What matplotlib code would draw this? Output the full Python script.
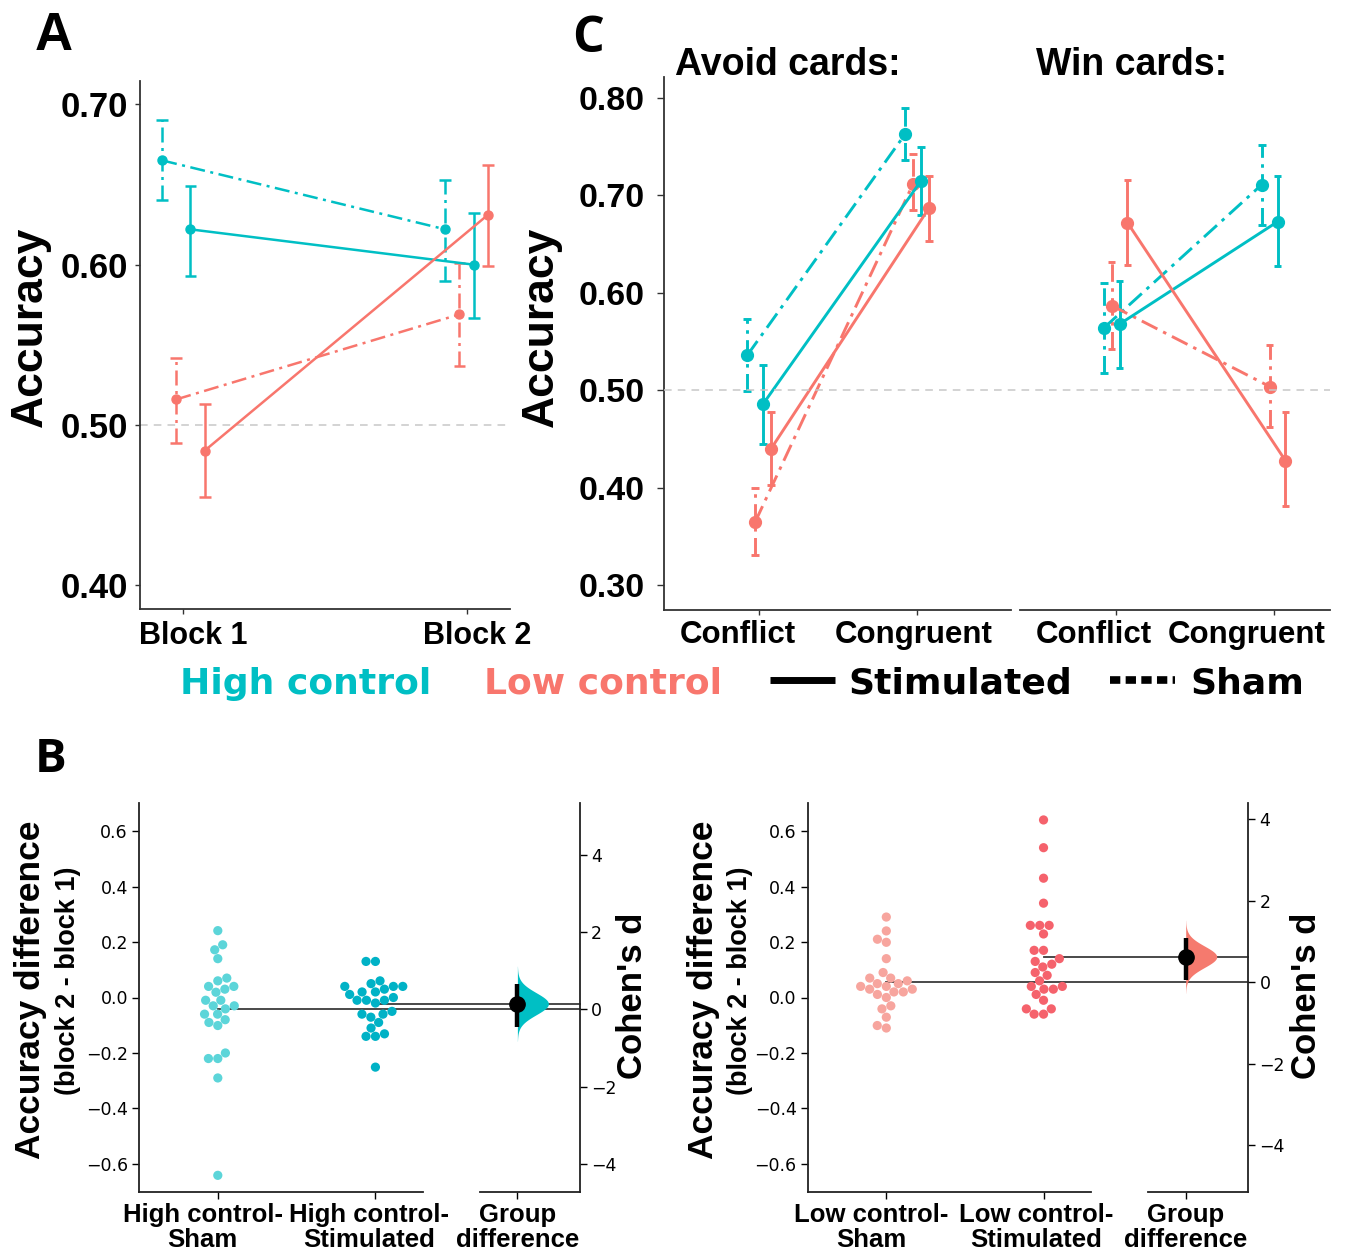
import numpy as np
import matplotlib
matplotlib.use("Agg")
import matplotlib.pyplot as plt
from matplotlib import transforms
from matplotlib.lines import Line2D

plt.rcParams['font.family'] = ['Liberation Sans', 'DejaVu Sans']

TEAL = "#00BFC4"
SALMON = "#F8766D"
DASHDOT = (0, (6, 2.2, 1.2, 2.2))

# ---------------- data: panel A (accuracy per block) ----------------
blocks = ["Block 1", "Block 2"]
a_hc_sham = [0.665, 0.622]
a_hc_sham_lo = [0.640, 0.590]
a_hc_sham_hi = [0.690, 0.653]
a_hc_stim = [0.622, 0.600]
a_hc_stim_lo = [0.593, 0.567]
a_hc_stim_hi = [0.649, 0.632]
a_lc_sham = [0.516, 0.569]
a_lc_sham_lo = [0.489, 0.537]
a_lc_sham_hi = [0.542, 0.601]
a_lc_stim = [0.484, 0.631]
a_lc_stim_lo = [0.455, 0.599]
a_lc_stim_hi = [0.513, 0.662]

# ---------------- data: panel C (accuracy per card type) ----------------
conditions = ["Conflict", "Congruent"]
avoid_hc_sham = [0.536, 0.763]
avoid_hc_sham_lo = [0.499, 0.736]
avoid_hc_sham_hi = [0.573, 0.790]
avoid_hc_stim = [0.486, 0.715]
avoid_hc_stim_lo = [0.445, 0.680]
avoid_hc_stim_hi = [0.526, 0.750]
avoid_lc_sham = [0.365, 0.712]
avoid_lc_sham_lo = [0.331, 0.685]
avoid_lc_sham_hi = [0.400, 0.742]
avoid_lc_stim = [0.440, 0.687]
avoid_lc_stim_lo = [0.403, 0.653]
avoid_lc_stim_hi = [0.478, 0.720]

win_hc_sham = [0.564, 0.711]
win_hc_sham_lo = [0.518, 0.670]
win_hc_sham_hi = [0.610, 0.752]
win_hc_stim = [0.568, 0.673]
win_hc_stim_lo = [0.523, 0.628]
win_hc_stim_hi = [0.612, 0.720]
win_lc_sham = [0.587, 0.504]
win_lc_sham_lo = [0.542, 0.462]
win_lc_sham_hi = [0.632, 0.547]
win_lc_stim = [0.672, 0.428]
win_lc_stim_lo = [0.629, 0.381]
win_lc_stim_hi = [0.716, 0.478]

# ---------------- data: panel B (block 2 - block 1 per subject) ----------------
hc_sham_diff = [0.241, 0.190, 0.172, 0.140, 0.070, 0.060, 0.030, 0.019, 0.040, 0.040,
                -0.010, -0.010, -0.030, -0.030, -0.041, -0.060, -0.060, -0.080, -0.090,
                -0.101, -0.200, -0.220, -0.220, -0.290, -0.641]
hc_stim_diff = [0.130, 0.130, 0.060, 0.050, 0.040, 0.040, 0.040, 0.030, 0.020, 0.020,
                0.011, 0.000, -0.010, -0.010, -0.010, -0.020, -0.050, -0.060, -0.060,
                -0.071, -0.090, -0.110, -0.140, -0.140, -0.131, -0.251]
lc_sham_diff = [0.290, 0.240, 0.210, 0.199, 0.140, 0.090, 0.070, 0.070, 0.050, 0.050,
                0.060, 0.040, 0.040, 0.030, 0.030, 0.020, 0.020, 0.011, 0.000, -0.030,
                -0.041, -0.071, -0.101, -0.110]
lc_stim_diff = [0.640, 0.540, 0.430, 0.340, 0.260, 0.260, 0.260, 0.229, 0.170, 0.170,
                0.140, 0.120, 0.110, 0.130, 0.090, 0.080, 0.060, 0.040, 0.040, 0.030,
                0.030, 0.011, -0.010, -0.041, -0.041, -0.060, -0.060]
# Cohen's d and 95% CI of the group difference
hc_d, hc_d_lo, hc_d_hi = 0.15, -0.45, 0.67
lc_d, lc_d_lo, lc_d_hi = 0.63, 0.06, 1.09

# ---------------- layout ----------------
W, H = 1345, 1253
fig = plt.figure(figsize=(W / 100, H / 100), dpi=100)


def rect(l, r, t, b):
    return [l / W, 1 - b / H, (r - l) / W, (b - t) / H]


def shift_labels(labels, offsets):
    # nudge tick labels horizontally by a few pixels
    for lab, dx in zip(labels, offsets):
        lab.set_transform(lab.get_transform() +
                          transforms.ScaledTranslation(dx / 100, 0, fig.dpi_scale_trans))


def style_line_axes(ax):
    for s in ['top', 'right']:
        ax.spines[s].set_visible(False)
    for s in ['left', 'bottom']:
        ax.spines[s].set_color('#333333')
        ax.spines[s].set_linewidth(1.3)
    ax.tick_params(direction='out', length=3.5, width=1, color='#333333')


def draw_series(ax, series, cap_w, lw, ms):
    for mean, lo, hi, color, ls, off in series:
        x = np.arange(1, len(mean) + 1) + off
        ax.vlines(x, lo, hi, color=color, linestyles=[ls], lw=lw, zorder=2)
        ax.hlines(lo, x - cap_w, x + cap_w, color=color, linestyles=[ls], lw=lw, zorder=2)
        ax.hlines(hi, x - cap_w, x + cap_w, color=color, linestyles=[ls], lw=lw, zorder=2)
        ax.plot(x, mean, color=color, ls=ls, lw=lw, marker='o', ms=ms, zorder=3)


# ---------------- panel A ----------------
axA = fig.add_axes(rect(139.5, 509.6, 81, 609))
style_line_axes(axA)
axA.axhline(0.5, color='#c8c8c8', lw=1.1, ls=(0, (5, 4)), zorder=1)
draw_series(axA, [
    (a_hc_sham, a_hc_sham_lo, a_hc_sham_hi, TEAL, DASHDOT, -0.075),
    (a_lc_sham, a_lc_sham_lo, a_lc_sham_hi, SALMON, DASHDOT, -0.025),
    (a_hc_stim, a_hc_stim_lo, a_hc_stim_hi, TEAL, '-', 0.025),
    (a_lc_stim, a_lc_stim_lo, a_lc_stim_hi, SALMON, '-', 0.075),
], cap_w=0.021, lw=1.8, ms=6.5)
axA.set_xlim(0.845, 2.152)
axA.set_ylim(0.3853, 0.7145)
axA.set_xticks([1, 2])
axA.set_xticklabels(blocks, fontsize=22, fontweight='bold')
axA.set_yticks([0.4, 0.5, 0.6, 0.7])
axA.set_yticklabels(['0.40', '0.50', '0.60', '0.70'], fontsize=25, fontweight='bold')
axA.tick_params(axis='x', pad=5)
axA.tick_params(axis='y', pad=5)
shift_labels(axA.get_xticklabels(), [10, 11])
fig.text(30 / W, 1 - 327 / H, 'Accuracy', rotation=90, fontsize=32, fontweight='bold',
         ha='center', va='center')

# ---------------- panel C ----------------
axC1 = fig.add_axes(rect(663.8, 1011.3, 77, 610))
axC2 = fig.add_axes(rect(1020.4, 1329.8, 77, 610))
for ax in (axC1, axC2):
    style_line_axes(ax)
    ax.set_ylim(0.2748, 0.8214)
    ax.set_xticks([1, 2])
    ax.set_xticklabels(conditions, fontsize=22.5, fontweight='bold')
    ax.tick_params(axis='x', pad=4)
axC1.set_xlim(0.397, 2.596)
axC2.set_xlim(0.397, 2.356)
shift_labels(axC1.get_xticklabels(), [-21, -3])
shift_labels(axC2.get_xticklabels(), [-22, -27])
axC2.spines['left'].set_visible(False)
axC2.set_yticks([])
axC1.set_yticks([0.3, 0.4, 0.5, 0.6, 0.7, 0.8])
axC1.set_yticklabels(['0.30', '0.40', '0.50', '0.60', '0.70', '0.80'], fontsize=24.5,
                     fontweight='bold')
axC1.tick_params(axis='y', length=5, pad=9)

ref = Line2D([663.8 / W, 1329.8 / W], [0.5, 0.5], color='#c8c8c8', lw=1.1, ls=(0, (5, 4)),
             transform=transforms.blended_transform_factory(fig.transFigure, axC1.transData),
             zorder=1)
fig.add_artist(ref)

draw_series(axC1, [
    (avoid_hc_sham, avoid_hc_sham_lo, avoid_hc_sham_hi, TEAL, DASHDOT, -0.075),
    (avoid_lc_sham, avoid_lc_sham_lo, avoid_lc_sham_hi, SALMON, DASHDOT, -0.025),
    (avoid_hc_stim, avoid_hc_stim_lo, avoid_hc_stim_hi, TEAL, '-', 0.025),
    (avoid_lc_stim, avoid_lc_stim_lo, avoid_lc_stim_hi, SALMON, '-', 0.075),
], cap_w=0.024, lw=2.1, ms=8.5)
draw_series(axC2, [
    (win_hc_sham, win_hc_sham_lo, win_hc_sham_hi, TEAL, DASHDOT, -0.075),
    (win_lc_sham, win_lc_sham_lo, win_lc_sham_hi, SALMON, DASHDOT, -0.025),
    (win_hc_stim, win_hc_stim_lo, win_hc_stim_hi, TEAL, '-', 0.025),
    (win_lc_stim, win_lc_stim_lo, win_lc_stim_hi, SALMON, '-', 0.075),
], cap_w=0.024, lw=2.1, ms=8.5)
fig.text(541 / W, 1 - 327 / H, 'Accuracy', rotation=90, fontsize=32, fontweight='bold',
         ha='center', va='center')
fig.text(675 / W, 1 - 75 / H, 'Avoid cards:', fontsize=27, fontweight='bold', va='baseline')
fig.text(1036 / W, 1 - 75 / H, 'Win cards:', fontsize=27, fontweight='bold', va='baseline')

# ---------------- legend row ----------------
leg_y = 1 - 694 / H
legfont = dict(fontsize=26, fontweight='bold', family=['DejaVu Sans'], va='baseline')
fig.text(180 / W, leg_y, 'High control', color=TEAL, **legfont)
fig.text(484 / W, leg_y, 'Low control', color=SALMON, **legfont)
fig.text(848 / W, leg_y, 'Stimulated', color='black', **legfont)
fig.text(1190 / W, leg_y, 'Sham', color='black', **legfont)
line_y = 1 - 680 / H
fig.add_artist(Line2D([770 / W, 835 / W], [line_y, line_y], color='black', lw=5,
                      solid_capstyle='butt', transform=fig.transFigure))
fig.add_artist(Line2D([1110 / W, 1175 / W], [line_y, line_y], color='black', lw=5.5,
                      ls=(0, (1.35, 0.7)), dash_capstyle='butt', transform=fig.transFigure))

# ---------------- panel B ----------------
DIAM_PX = 9.4


def swarm_x(values, center, sx, sy, diam):
    vals = np.asarray(values, float)
    order = np.argsort(vals, kind='stable')
    placed = []
    xs = np.zeros(len(vals))
    for i in order:
        y = vals[i] * sy
        cands = [0.0]
        for px, py in placed:
            dy = abs(py - y)
            if dy < diam:
                dx = np.sqrt(diam ** 2 - dy ** 2)
                cands += [px - dx, px + dx]
        cands = sorted(cands, key=abs)
        pick = cands[-1]
        for c in cands:
            if all((c - px) ** 2 + (y - py) ** 2 >= diam ** 2 - 1e-6 for px, py in placed):
                pick = c
                break
        placed.append((pick, y))
        xs[i] = center + pick / sx
    return xs


def estimation_panel(main_l, main_r, con_l, con_r, sham, stim, c_sham, c_stim, c_violin,
                     d, d_lo, d_hi, xlabels, label_dx, ylab_x, cohen_x):
    top, bot = 803.3, 1191.7
    ax = fig.add_axes(rect(main_l, main_r, top, bot))
    cax = fig.add_axes(rect(con_l, con_r, top, bot))
    xlim = (-0.5, 1.3)
    ylim = (-0.7, 0.7)
    ax.set_xlim(*xlim)
    ax.set_ylim(*ylim)
    sx = (main_r - main_l) / (xlim[1] - xlim[0])
    sy = (bot - top) / (ylim[1] - ylim[0])

    for k, (vals, col) in enumerate([(sham, c_sham), (stim, c_stim)]):
        xs = swarm_x(vals, k, sx, sy, DIAM_PX)
        ax.scatter(xs, vals, s=44, color=col, edgecolors='none', zorder=3, clip_on=False)

    m_sham, m_stim = np.mean(sham), np.mean(stim)
    scale = (m_stim - m_sham) / d
    cax.set_ylim((ylim[0] - m_sham) / scale, (ylim[1] - m_sham) / scale)
    cax.set_xlim(-0.374, 0.626)

    # mean lines from each group across to the contrast axis
    x_end = ax.transData.inverted().transform(cax.transAxes.transform((1, 0)))[0]
    for k, m in enumerate([m_sham, m_stim]):
        ax.plot([k, x_end], [m, m], color='#3a3a3a', lw=1.3, clip_on=False, zorder=2)

    # bootstrap-like half violin, effect size and CI
    sd = (d_hi - d_lo) / (2 * 1.96)
    yy = np.linspace(d - 3.4 * sd, d + 3.4 * sd, 300)
    dens = np.exp(-0.5 * ((yy - d) / sd) ** 2)
    cax.fill_betweenx(yy, 0, 0.31 * dens, color=c_violin, lw=0, zorder=1)
    cax.vlines(0, d_lo, d_hi, color='black', lw=3.2, zorder=4)
    cax.plot([0], [d], 'o', color='black', ms=11, zorder=5)

    # styling
    ax.spines['top'].set_visible(False)
    ax.spines['right'].set_visible(False)
    for s in ['left', 'bottom']:
        ax.spines[s].set_linewidth(1.3)
        ax.spines[s].set_color('#222222')
    cax.spines['top'].set_visible(False)
    cax.spines['left'].set_visible(False)
    for s in ['right', 'bottom']:
        cax.spines[s].set_linewidth(1.3)
        cax.spines[s].set_color('#222222')
    cax.patch.set_alpha(0)
    ax.patch.set_alpha(0)

    ax.set_yticks([-0.6, -0.4, -0.2, 0.0, 0.2, 0.4, 0.6])
    ax.tick_params(axis='y', labelsize=12.5, length=5, width=1, pad=3)
    for lab in ax.get_yticklabels():
        lab.set_family('DejaVu Sans')
    ax.set_xticks([0, 1])
    ax.set_xticklabels(xlabels[:2], fontsize=18.5, fontweight='bold', linespacing=1.05)
    ax.tick_params(axis='x', length=5, width=1, pad=3)
    shift_labels(ax.get_xticklabels(), label_dx)

    cax.yaxis.tick_right()
    cax.set_yticks([-4, -2, 0, 2, 4])
    cax.tick_params(axis='y', labelsize=12.5, length=5, width=1, pad=3)
    for lab in cax.get_yticklabels():
        lab.set_family('DejaVu Sans')
    cax.set_xticks([0])
    cax.set_xticklabels([xlabels[2]], fontsize=18.5, fontweight='bold', linespacing=1.05)
    cax.tick_params(axis='x', length=5, width=1, pad=3)

    fig.text(ylab_x / W, 1 - 990 / H, 'Accuracy difference', rotation=90, fontsize=25.5,
             fontweight='bold', ha='center', va='center')
    fig.text((ylab_x + 37) / W, 1 - 981 / H, '(block 2 - block 1)', rotation=90,
             fontsize=19.5, fontweight='bold', ha='center', va='center')
    fig.text(cohen_x / W, 1 - 996 / H, "Cohen's d", rotation=90, fontsize=25,
             fontweight='bold', ha='center', va='center')


estimation_panel(139, 422.7, 480, 580, hc_sham_diff, hc_stim_diff,
                 '#5CD5D9', '#00B2C6', '#00BFC4', hc_d, hc_d_lo, hc_d_hi,
                 ['High control-\nSham', 'High control-\nStimulated', 'Group\ndifference'],
                 [-15, -6], 31, 633)
estimation_panel(807.7, 1090.7, 1148.3, 1248.3, lc_sham_diff, lc_stim_diff,
                 '#F7A59E', '#F5626C', '#F57A6E', lc_d, lc_d_lo, lc_d_hi,
                 ['Low control-\nSham', 'Low control-\nStimulated', 'Group\ndifference'],
                 [-15, -7], 703, 1306)

# ---------------- panel letters ----------------
fig.text(35 / W, 1 - 50 / H, 'A', fontsize=38, fontweight='bold', va='baseline')
fig.text(572 / W, 1 - 52 / H, 'C', fontsize=36, fontweight='bold', va='baseline',
         family=['Open Sans', 'Liberation Sans'])
fig.text(35 / W, 1 - 772 / H, 'B', fontsize=34, fontweight='bold', va='baseline',
         family=['Open Sans', 'Liberation Sans'])

fig.savefig('out.png', dpi=100)
